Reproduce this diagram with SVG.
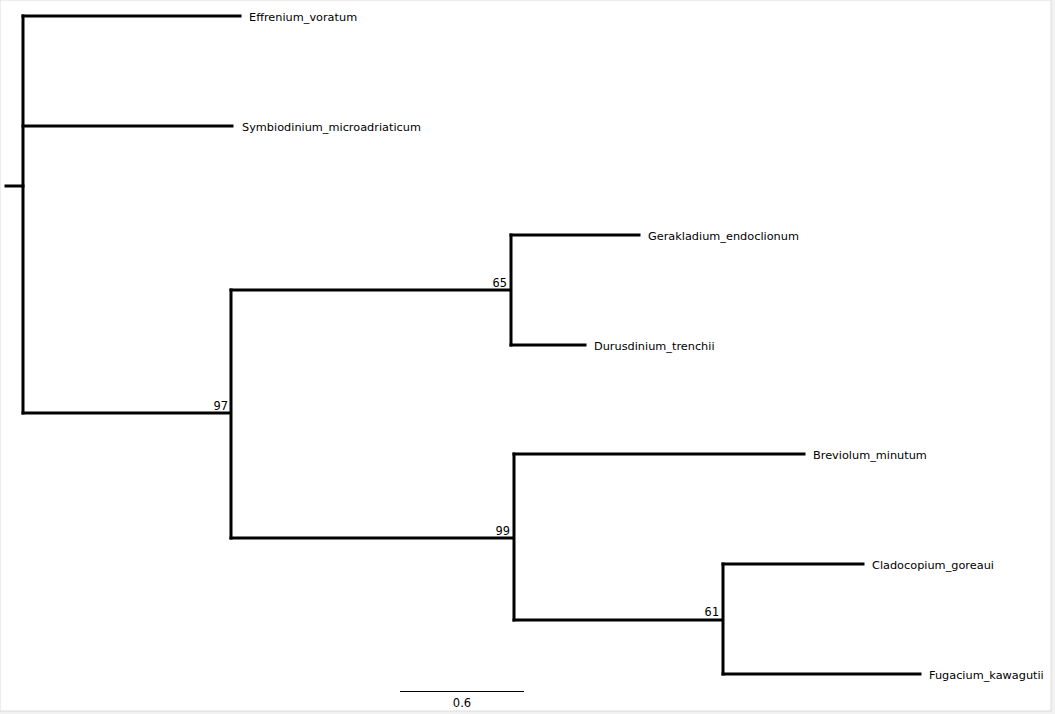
<svg xmlns="http://www.w3.org/2000/svg" width="1055" height="714" viewBox="0 0 1055 714">
  <style>
    .br { fill: none; stroke: #000; stroke-width: 3; stroke-linecap: square; stroke-linejoin: miter; }
    .tip { font-family: "DejaVu Sans", "Liberation Sans", sans-serif; font-size: 11.3px; fill: #000; }
    .sup { font-family: "DejaVu Sans Mono", "Liberation Mono", monospace; font-size: 12px; fill: #000; text-anchor: end; }
    .scale { font-family: "DejaVu Sans", sans-serif; font-size: 11.5px; fill: #000; text-anchor: middle; }
  </style>
  <!-- panel frame -->
  <rect x="0" y="0" width="1055" height="714" fill="#f2f2f2"/>
  <rect x="0" y="0" width="1051" height="711" fill="#ffffff" stroke="#dcdcdc" stroke-width="1"/>

  <!-- branches -->
  <g id="connectors">
    <path class="br" d="M6,186 H23"/>
    <path class="br" d="M23,16 V413"/>
    <path class="br" d="M23,16 H240"/>
    <path class="br" d="M23,126 H232"/>
    <path class="br" d="M23,413 H231 M231,290 V538"/>
    <path class="br" d="M231,290 H511 M511,235 V345"/>
    <path class="br" d="M511,235 H639"/>
    <path class="br" d="M511,345 H585"/>
    <path class="br" d="M231,538 H514 M514,454 V620"/>
    <path class="br" d="M514,454 H804"/>
    <path class="br" d="M514,620 H723 M723,564 V674"/>
    <path class="br" d="M723,564 H863"/>
    <path class="br" d="M723,674 H920"/>
  </g>

  <!-- taxa -->
  <g id="Effrenium_voratum"><text class="tip" x="249" y="20.5">Effrenium_voratum</text></g>
  <g id="Symbiodinium_microadriaticum"><text class="tip" x="242" y="130.5">Symbiodinium_microadriaticum</text></g>
  <g id="Gerakladium_endoclionum"><text class="tip" x="648" y="239.5">Gerakladium_endoclionum</text></g>
  <g id="Durusdinium_trenchii"><text class="tip" x="594" y="349.5">Durusdinium_trenchii</text></g>
  <g id="Breviolum_minutum"><text class="tip" x="813" y="458.5">Breviolum_minutum</text></g>
  <g id="Cladocopium_goreaui"><text class="tip" x="872" y="568.5">Cladocopium_goreaui</text></g>
  <g id="Fugacium_kawagutii"><text class="tip" x="929" y="678.5">Fugacium_kawagutii</text></g>

  <!-- support values -->
  <g id="node97"><text class="sup" x="228" y="410">97</text></g>
  <g id="node65"><text class="sup" x="507" y="287">65</text></g>
  <g id="node99"><text class="sup" x="510" y="535">99</text></g>
  <g id="node61"><text class="sup" x="719" y="616">61</text></g>

  <!-- scale bar -->
  <g id="scale">
    <path d="M400,691.5 H524" stroke="#000" stroke-width="1" fill="none"/>
    <text class="scale" x="462" y="707">0.6</text>
  </g>
</svg>
